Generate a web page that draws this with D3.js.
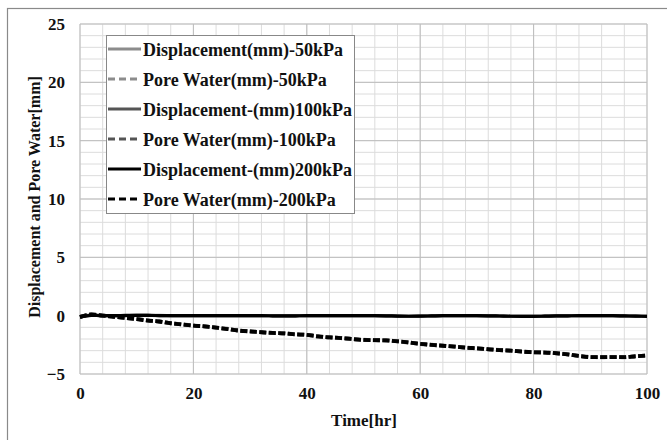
<!DOCTYPE html>
<html>
<head>
<meta charset="utf-8">
<script src="https://d3js.org/d3.v7.min.js"></script>
<style>
  body { margin: 0; background: #fff; }
  text { font-family: "Liberation Serif", "Times New Roman", serif; font-weight: bold; }
</style>
</head>
<body>
<div id="chart"></div>
<script>
  // time in hours, one reading every 2 hr
  var hours = [0,2,4,6,8,10,12,14,16,18,20,22,24,26,28,30,32,34,36,38,40,42,44,46,48,50,
    52,54,56,58,60,62,64,66,68,70,72,74,76,78,80,82,84,86,88,90,92,94,96,98,100];

  // displacement (mm), all sit near zero
  var disp50  = [-0.1,0.05,0,0,0.02,0.03,0.02,0.02,0.01,0,0,0,0,0,0,0,0,-0.01,-0.02,-0.01,0,0,0,0,0,0,
    0,-0.01,-0.04,-0.05,-0.04,-0.02,0,0,0,0,-0.01,-0.03,-0.05,-0.06,-0.06,-0.04,-0.02,-0.01,0,0,0,0,-0.02,-0.04,-0.05];
  var disp100 = [-0.1,0.04,0,0,0.02,0.03,0.02,0.01,0.01,0,0,0,0,0,0,0,0,-0.01,-0.02,-0.01,0,0,0,0,0,0,
    0,-0.01,-0.04,-0.05,-0.04,-0.02,0,0,0,0,-0.01,-0.03,-0.05,-0.06,-0.06,-0.04,-0.02,-0.01,0,0,0,0,-0.02,-0.04,-0.05];
  var disp200 = [-0.12,0.03,0,0,0.01,0.02,0.02,0.01,0,0,0,0,0,0,0,0,0,-0.01,-0.02,-0.01,0,0,0,0,0,0,
    0,-0.01,-0.04,-0.05,-0.04,-0.02,0,0,0,0,-0.01,-0.03,-0.05,-0.06,-0.06,-0.04,-0.02,-0.01,0,0,0,0,-0.02,-0.04,-0.06];

  // pore water (mm)
  var pore50  = [-0.1,0.1,0.02,-0.08,-0.2,-0.28,-0.42,-0.5,-0.64,-0.74,-0.84,-0.93,-1.02,-1.12,-1.27,-1.33,-1.43,-1.47,-1.53,-1.58,-1.66,-1.76,-1.86,-1.9,-2.01,-2.06,
    -2.11,-2.1,-2.21,-2.28,-2.43,-2.49,-2.59,-2.63,-2.75,-2.79,-2.89,-2.93,-3.01,-3.06,-3.15,-3.14,-3.23,-3.3,-3.46,-3.53,-3.57,-3.53,-3.57,-3.47,-3.43];
  var pore100 = [-0.1,0.09,0.01,-0.1,-0.19,-0.3,-0.41,-0.51,-0.65,-0.75,-0.86,-0.91,-1.03,-1.14,-1.28,-1.36,-1.41,-1.49,-1.51,-1.61,-1.64,-1.79,-1.85,-1.93,-1.99,-2.09,
    -2.09,-2.13,-2.19,-2.31,-2.41,-2.51,-2.57,-2.66,-2.73,-2.81,-2.87,-2.96,-2.99,-3.09,-3.13,-3.17,-3.21,-3.33,-3.44,-3.56,-3.55,-3.56,-3.55,-3.49,-3.41];
  var pore200 = [-0.1,0.1,0,-0.1,-0.2,-0.3,-0.42,-0.5,-0.65,-0.75,-0.85,-0.92,-1.02,-1.15,-1.28,-1.35,-1.42,-1.48,-1.52,-1.6,-1.65,-1.78,-1.86,-1.92,-2.0,-2.08,
    -2.1,-2.12,-2.2,-2.3,-2.42,-2.5,-2.58,-2.65,-2.74,-2.8,-2.88,-2.95,-3.0,-3.08,-3.14,-3.16,-3.22,-3.32,-3.45,-3.55,-3.56,-3.55,-3.56,-3.48,-3.42];

  var names = ["Displacement(mm)-50kPa", "Pore Water(mm)-50kPa", "Displacement-(mm)100kPa",
    "Pore Water(mm)-100kPa", "Displacement-(mm)200kPa", "Pore Water(mm)-200kPa"];
  var allValues = [disp50, pore50, disp100, pore100, disp200, pore200];

  var xTicks = [0, 20, 40, 60, 80, 100];
  var yTicks = [-5, 0, 5, 10, 15, 20, 25];

  var colors = ["#8c8c8c", "#8c8c8c", "#555555", "#555555", "#000000", "#000000"];
  var dashed = [false, true, false, true, false, true];

  var W = 667, H = 440;
  var margin = { top: 24, right: 20, bottom: 66, left: 80 };
  var width = 647 - margin.left,
      height = 374 - margin.top;

  var svg = d3.select("#chart").append("svg")
    .attr("width", W).attr("height", H);

  // outer frame
  svg.append("rect")
    .attr("x", 7.5).attr("y", 8.5)
    .attr("width", W + 10).attr("height", H + 10)
    .attr("fill", "none").attr("stroke", "#8a8a8a").attr("stroke-width", 1.2);

  var g = svg.append("g")
    .attr("transform", "translate(" + margin.left + "," + margin.top + ")");

  var x = d3.scaleLinear().domain([0, 100]).range([0, width]);
  var y = d3.scaleLinear().domain([-5, 25]).range([height, 0]);

  // minor grid
  g.append("g").selectAll("line").data(d3.range(0, 101, 4))
    .enter().append("line")
    .attr("x1", d => x(d)).attr("x2", d => x(d))
    .attr("y1", 0).attr("y2", height)
    .attr("stroke", "#dcdcdc").attr("stroke-width", 1);
  g.append("g").selectAll("line").data(d3.range(-5, 26, 1))
    .enter().append("line")
    .attr("x1", 0).attr("x2", width)
    .attr("y1", d => y(d)).attr("y2", d => y(d))
    .attr("stroke", "#dcdcdc").attr("stroke-width", 1);

  // major grid
  g.append("g").selectAll("line").data(xTicks)
    .enter().append("line")
    .attr("x1", d => x(d)).attr("x2", d => x(d))
    .attr("y1", 0).attr("y2", height)
    .attr("stroke", "#bdbdbd").attr("stroke-width", 1);
  g.append("g").selectAll("line").data(yTicks)
    .enter().append("line")
    .attr("x1", 0).attr("x2", width)
    .attr("y1", d => y(d)).attr("y2", d => y(d))
    .attr("stroke", "#bdbdbd").attr("stroke-width", 1);

  // axes (labels only)
  var xAxis = g.append("g")
    .attr("transform", "translate(0," + height + ")")
    .call(d3.axisBottom(x).tickValues(xTicks).tickSize(0).tickPadding(13));
  var yAxis = g.append("g")
    .call(d3.axisLeft(y).tickValues(yTicks).tickSize(0).tickPadding(15));
  [xAxis, yAxis].forEach(function (a) {
    a.select(".domain").remove();
    a.selectAll("text").attr("font-size", 17).attr("fill", "#111")
      .style("font-family", "'Liberation Serif', serif").style("font-weight", "bold");
  });

  // lines
  var line = d3.line()
    .x(function (d) { return x(d.t); })
    .y(function (d) { return y(d.v); })
    .curve(d3.curveMonotoneX);

  var series = names.map(function (n, i) {
    return {
      name: n, color: colors[i], dash: dashed[i],
      values: hours.map(function (t, j) { return { t: t, v: allValues[i][j] }; })
    };
  });

  g.selectAll(".series")
    .data(series)
    .enter().append("path")
    .attr("d", function (d) { return line(d.values); })
    .attr("fill", "none")
    .attr("stroke", function (d) { return d.color; })
    .attr("stroke-width", function (d) { return d.dash ? 3.8 : 3.2; })
    .attr("stroke-dasharray", function (d) { return d.dash ? "7,2.5" : null; });

  // axis titles
  svg.append("text")
    .attr("x", 364).attr("y", 426)
    .attr("text-anchor", "middle").attr("font-size", 17).attr("fill", "#111")
    .text("Time[hr]");
  svg.append("text")
    .attr("transform", "translate(40,197) rotate(-90)")
    .attr("text-anchor", "middle").attr("font-size", 16).attr("fill", "#111")
    .text("Displacement and Pore Water[mm]");

  // legend
  var legend = svg.append("g");
  legend.append("rect")
    .attr("x", 106.5).attr("y", 35.5).attr("width", 248).attr("height", 178)
    .attr("fill", "#fff").attr("stroke", "#888").attr("stroke-width", 1);
  var items = legend.selectAll(".item").data(series).enter().append("g")
    .attr("transform", function (d, i) { return "translate(0," + (49 + i * 30) + ")"; });
  items.append("line")
    .attr("x1", 108).attr("x2", 141).attr("y1", 0).attr("y2", 0)
    .attr("stroke", function (d) { return d.color; })
    .attr("stroke-width", 3)
    .attr("stroke-dasharray", function (d) { return d.dash ? "7,4" : null; });
  var labels = items.append("text")
    .attr("font-size", 18).attr("fill", "#111")
    .text(function (d) { return d.name; });
  // the original legend font runs wider than ours, stretch to match
  var sx = 200 / labels.node().getComputedTextLength();
  labels.attr("transform", "translate(143,7) scale(" + sx + ",1)");
</script>
</body>
</html>
